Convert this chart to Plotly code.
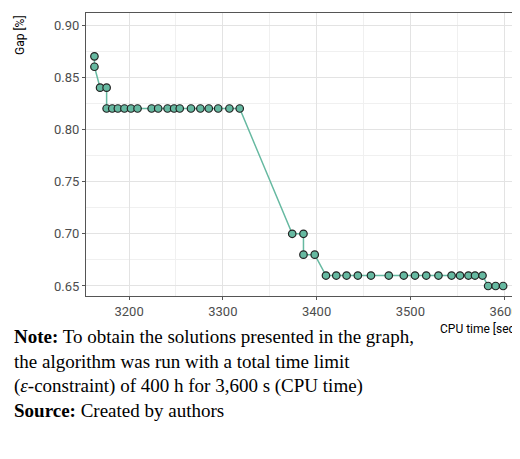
import plotly.graph_objects as go

cpu_time = [3163,3163,3169,3176,3176,3182,3188,3195,3202,3209,3224,3231,3241,3248,3254,3266,3276,3285,3295,3307,3318,
            3374,3386,3386,3398,3410,3421,3432,3444,3458,3477,3493,3505,3517,3530,3544,3553,3562,3569,3577,3583,3591,3599]
gap = [0.87,0.86,0.84,0.84,0.82,0.82,0.82,0.82,0.82,0.82,0.82,0.82,0.82,0.82,0.82,0.82,0.82,0.82,0.82,0.82,0.82,
       0.70,0.70,0.68,0.68,0.66,0.66,0.66,0.66,0.66,0.66,0.66,0.66,0.66,0.66,0.66,0.66,0.66,0.66,0.66,0.65,0.65,0.65]
x_ticks = [3200,3300,3400,3500,3600]
y_ticks = [0.65,0.70,0.75,0.80,0.85,0.90]

fig = go.Figure(go.Scatter(
    x=cpu_time, y=gap, mode="lines+markers",
    line=dict(color="#66b9a1", width=1.5),
    marker=dict(color="#66b9a1", size=7.5, line=dict(color="#222222", width=1.2)),
))
axis_common = dict(showgrid=True, gridcolor="#e3e3e3", zeroline=False, showline=True, mirror=True,
                   linecolor="#555555", linewidth=1, ticks="outside", ticklen=3, tickcolor="#555555",
                   automargin=False,
                   tickfont=dict(family="Roboto, Arial", size=13, color="#4d4d4d"))
fig.update_xaxes(range=[3154,3617], tickvals=x_ticks, minor=dict(dtick=50, showgrid=True, gridcolor="#f0f0f0"), **axis_common)
fig.update_yaxes(range=[0.6404,0.9115], tickvals=y_ticks, tickformat=".2f",
                 minor=dict(dtick=0.025, showgrid=True, gridcolor="#f0f0f0"), **axis_common)
ann = [
    dict(text="Gap [%]", x=0, xref="paper", xshift=-66, y=1, yref="paper", yanchor="top", xanchor="center",
         textangle=-90, showarrow=False, font=dict(family="Roboto, Arial", size=12, color="#000")),
    dict(text="CPU time [sec]", x=1, xref="paper", y=0, yref="paper", yshift=-24, xanchor="right", yanchor="top",
         showarrow=False, font=dict(family="Roboto, Arial", size=12, color="#000")),
    dict(text="<b>Note:</b> To obtain the solutions presented in the graph,<br>the algorithm was run with a total time limit<br>"
              "(<i>ε</i>-constraint) of 400 h for 3,600 s (CPU time)<br><b>Source:</b> Created by authors",
         x=0, xref="paper", xshift=-74, y=0, yref="paper", yshift=-28, xanchor="left", yanchor="top", align="left",
         showarrow=False, font=dict(family="Liberation Serif, Times New Roman", size=19, color="#000")),
]
fig.update_layout(width=520, height=459, margin=dict(l=78, r=8, t=5, b=171, autoexpand=False), plot_bgcolor="white",
                  paper_bgcolor="white", showlegend=False, annotations=ann)
fig.write_html("out.html")
